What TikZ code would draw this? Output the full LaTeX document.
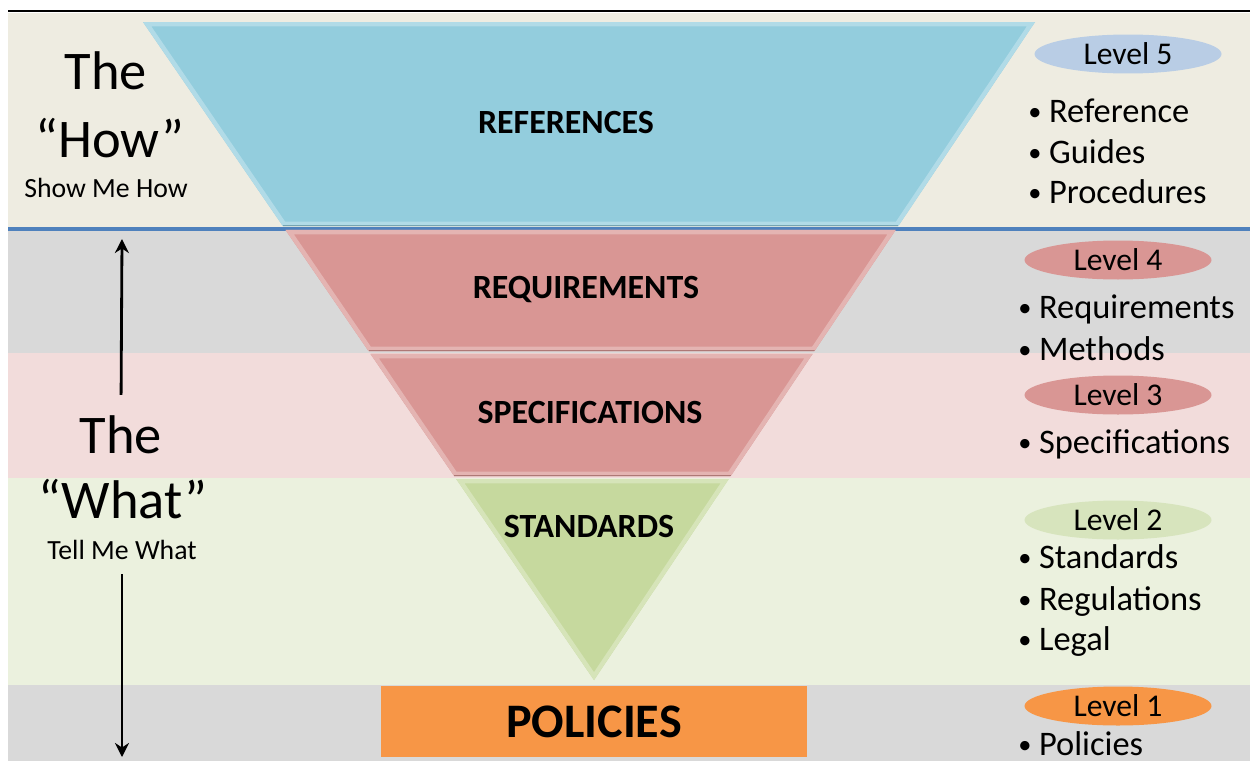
\documentclass[tikz,border=0pt]{standalone}
\usepackage{fontspec}
\setmainfont{Carlito}
\usetikzlibrary{arrows.meta,calc,shapes.geometric}
\definecolor{bandtan}{HTML}{EEECE1}
\definecolor{bandgrey}{HTML}{D9D9D9}
\definecolor{bandpink}{HTML}{F2DCDB}
\definecolor{bandgreen}{HTML}{EBF1DE}
\definecolor{refblue}{HTML}{93CDDD}
\definecolor{layerred}{HTML}{D99694}
\definecolor{stdgreen}{HTML}{C6D99E}
\definecolor{polorange}{HTML}{F79646}
\definecolor{lvlblue}{HTML}{B9CDE5}
\definecolor{lvlgreen}{HTML}{D7E4BD}
\definecolor{rulebl}{HTML}{4F81BD}
\newcommand{\bul}{\raisebox{1pt}{\fontsize{15}{15}\selectfont•}\hspace{0.22em}}
\begin{document}
\begin{tikzpicture}[x=0.02cm, y=-0.02cm, line join=round,
  layer/.style={font=\fontsize{19.3}{21}\selectfont\bfseries, anchor=base},
  big/.style={font=\fontsize{31}{34}\selectfont, anchor=base},
  small/.style={font=\fontsize{15.8}{18}\selectfont, anchor=base},
  level/.style={ellipse, fill=#1, inner sep=0pt, minimum width=3.74cm, minimum height=0.78cm,
    font=\fontsize{18}{20}\selectfont},
  item/.style={font=\fontsize{19.6}{22}\selectfont, anchor=base west, inner sep=0pt},
  updown/.style={line width=1.6pt, -{Stealth[length=8pt, width=8pt]}}]
\useasboundingbox (0,0) rectangle (1250,761);
\fill[white] (0,0) rectangle (1250,761);
\fill[bandtan]   (8,13)  rectangle (1250,229);
\fill[bandgrey]  (8,229) rectangle (1250,353);
\fill[bandpink]  (8,353) rectangle (1250,478);
\fill[bandgreen] (8,478) rectangle (1250,685);
\fill[bandgrey]  (8,685) rectangle (1250,761);
\draw[line width=1.7pt] (8,11) -- (1250,11);
\draw[rulebl, line width=2.2pt] (8,229) -- (1250,229);

\coordinate (TL) at (143,22);
\coordinate (TR) at (1035,22);
\coordinate (AP) at (594,680);
\foreach \ya/\yb/\col in {22/226/refblue, 230/351/layerred, 354/476/layerred, 479/680/stdgreen}{
  \pgfmathsetmacro\ta{(\ya-22)/658}
  \pgfmathsetmacro\tb{(\yb-22)/658}
  \path ($(TL)!\ta!(AP)$) coordinate (a) ($(TR)!\ta!(AP)$) coordinate (b)
        ($(TR)!\tb!(AP)$) coordinate (c) ($(TL)!\tb!(AP)$) coordinate (d);
  \fill[\col] (a) -- (b) -- (c) -- (d) -- cycle;
  \begin{scope}
    \clip (a) -- (b) -- (c) -- (d) -- cycle;
    \draw[\col!72!white, line width=5pt] (a) -- (b) -- (c) -- (d) -- cycle;
    \draw[\col!80!black, line width=1pt] (d) -- (c);
  \end{scope}
}

\node[layer] (refs)  at (566,133) {REFERENCES};
\node[layer] (reqs)  at (586,298) {REQUIREMENTS};
\node[layer] (specs) at (590,423) {SPECIFICATIONS};
\node[layer] (stds)  at (589,537) {STANDARDS};
\node[fill=polorange, minimum width=8.52cm, minimum height=1.42cm,
  font=\fontsize{27.4}{29}\selectfont\bfseries] (pol) at (594,721.5) {POLICIES};

\node[big]   (howThe)   at (106,89)  {The};
\node[big]   (howQ)     at (110,157) {“How”};
\node[small] (howShow)  at (106,197) {Show Me How};
\node[big]   (whatThe)  at (121,453) {The};
\node[big]   (whatQ)    at (123,518) {“What”};
\node[small] (whatTell) at (122,559) {Tell Me What};
\coordinate (upTip)   at (122,239);
\coordinate (downTip) at (122,757);
\draw[updown, shorten <=8pt] (whatThe.north) -- (upTip);
\draw[updown, shorten <=5pt] (whatTell.south) -- (downTip);

\node[level=lvlblue]   (lv5) at (1128,54)  {Level 5};
\node[item] (r1) at (1028,122) {\bul Reference};
\node[item] (r2) at (1028,163) {\bul Guides};
\node[item] (r3) at (1028,203) {\bul Procedures};
\node[level=layerred]  (lv4) at (1118,260) {Level 4};
\node[item] (q1) at (1018,318) {\bul Requirements};
\node[item] (q2) at (1018,360) {\bul Methods};
\node[level=layerred]  (lv3) at (1118,395) {Level 3};
\node[item] (s1) at (1018,453) {\bul Specifications};
\node[level=lvlgreen]  (lv2) at (1118,520) {Level 2};
\node[item] (t1) at (1018,568) {\bul Standards};
\node[item] (t2) at (1018,610) {\bul Regulations};
\node[item] (t3) at (1018,650) {\bul Legal};
\node[level=polorange] (lv1) at (1118,706) {Level 1};
\node[item] (p1) at (1018,755) {\bul Policies};
\end{tikzpicture}
\end{document}
